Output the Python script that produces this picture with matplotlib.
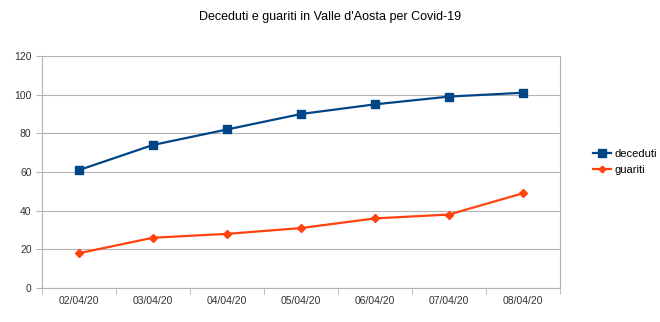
import numpy as np
import matplotlib.pyplot as plt
from matplotlib.ticker import FixedLocator

plt.rcParams["font.family"] = ["Liberation Sans", "DejaVu Sans"]

dates = ["02/04/20", "03/04/20", "04/04/20", "05/04/20", "06/04/20", "07/04/20", "08/04/20"]
deceduti = [61, 74, 82, 90, 95, 99, 101]
guariti = [18, 26, 28, 31, 36, 38, 49]

fig = plt.figure(figsize=(6.6, 3.22), dpi=100)
ax = fig.add_axes([42 / 660, 1 - 288 / 322, (560 - 42) / 660, (288 - 56) / 322])

x = np.arange(len(dates))
ax.plot(x, deceduti, color="#004586", lw=1.6, marker="s", ms=6, label="deceduti")
ax.plot(x, guariti, color="#ff420e", lw=1.6, marker="D", ms=4, label="guariti")

ax.set_xlim(-0.5, len(dates) - 0.5)
ax.set_ylim(0, 120)
ax.set_yticks(range(0, 121, 20))
ax.set_xticks(x)
ax.set_xticklabels(dates)
ax.xaxis.set_minor_locator(FixedLocator(np.arange(-0.5, len(dates), 1.0)))
ax.tick_params(axis="x", which="major", length=0, labelsize=7.5, colors="#333333", pad=6)
ax.tick_params(axis="x", which="minor", length=4, color="#b3b3b3")
ax.tick_params(axis="y", length=4, color="#b3b3b3", labelsize=7.5, labelcolor="#333333")
ax.grid(axis="y", color="#b3b3b3", lw=0.8)
ax.set_axisbelow(True)
for side in ["left", "right", "bottom"]:
    ax.spines[side].set_color("#b3b3b3")
ax.spines["top"].set_visible(False)

fig.text(0.5, 1 - 17 / 322, "Deceduti e guariti in Valle d'Aosta per Covid-19",
         ha="center", va="center", fontsize=9)

ax.legend(loc="center left", bbox_to_anchor=(1.045, 0.545), frameon=False,
          fontsize=8, handlelength=1.6, handletextpad=0.3, labelspacing=0.55,
          markerscale=0.85)

fig.savefig("out.png", dpi=100)
